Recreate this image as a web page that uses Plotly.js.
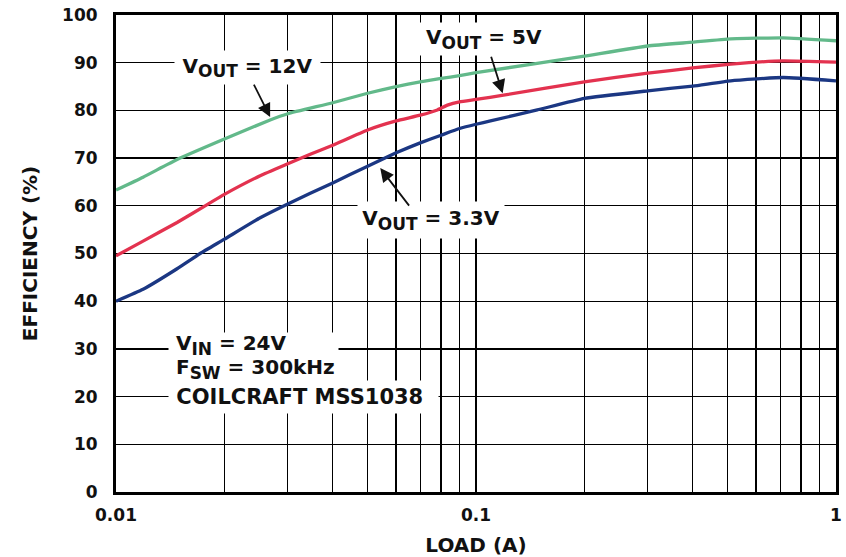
<!DOCTYPE html>
<html>
<head>
<meta charset="utf-8">
<script src="https://cdn.plot.ly/plotly-3.0.1.min.js"></script>
<style>html,body{margin:0;padding:0;background:#fff;}#chart{width:846px;height:557px;}</style>
</head>
<body>
<div id="chart"></div>
<script>
// Load current (A) and efficiency (%)
const load12 = [0.01, 0.01189, 0.01478, 0.02, 0.0268, 0.03, 0.04, 0.05, 0.06, 0.07, 0.08, 0.09, 0.1, 0.2, 0.3, 0.4, 0.51, 0.713, 1.0];
const eff12  = [63.3, 66.0, 69.7, 74.0, 78.0, 79.3, 81.6, 83.6, 85.0, 86.0, 86.7, 87.3, 87.9, 91.4, 93.5, 94.3, 95.0, 95.2, 94.6];

const load5 = [0.01, 0.01189, 0.01478, 0.01768, 0.02, 0.02515, 0.03, 0.03464, 0.04, 0.05, 0.06, 0.07, 0.0781, 0.0833, 0.09, 0.1, 0.1192, 0.2, 0.3, 0.4, 0.51, 0.713, 1.0];
const eff5  = [49.5, 52.6, 56.5, 60.0, 62.4, 66.3, 68.8, 70.8, 72.7, 75.9, 77.8, 79.0, 80.1, 81.1, 81.8, 82.3, 83.2, 86.0, 87.8, 88.9, 89.7, 90.4, 90.1];

const load33 = [0.01, 0.01189, 0.01478, 0.01713, 0.02, 0.02515, 0.03, 0.04, 0.05, 0.06, 0.07, 0.08, 0.09, 0.1, 0.1097, 0.148, 0.2, 0.3, 0.4, 0.51, 0.713, 1.0];
const eff33  = [40.0, 42.5, 46.8, 50.0, 53.0, 57.5, 60.4, 64.8, 68.3, 71.1, 73.2, 74.8, 76.2, 77.1, 77.8, 80.1, 82.5, 84.1, 85.1, 86.2, 86.9, 86.2];

const xTickVals = [0.01, 0.1, 1];
const xTickText = ['0.01', '0.1', '1'];
const xMinorVals = [0.02,0.03,0.04,0.05,0.06,0.07,0.08,0.09,0.2,0.3,0.4,0.5,0.6,0.7,0.8,0.9];

const FONT = 'DejaVu Sans, Liberation Sans, Arial, sans-serif';

const mk = (x, y, color, name) => ({
  x: x, y: y, type: 'scatter', mode: 'lines', name: name,
  line: {color: color, width: 3.3, shape: 'spline', smoothing: 0.4},
  hoverinfo: 'skip'
});

const data = [
  mk(load12, eff12, '#62b98a', 'VOUT = 12V'),
  mk(load5, eff5, '#e3324f', 'VOUT = 5V'),
  mk(load33, eff33, '#1b3783', 'VOUT = 3.3V')
];

const annFont = {family: FONT, size: 20, color: '#111', weight: 'bold'};
const annFontWide = {family: FONT, size: 21, color: '#111', weight: 'bold'};
const sub = s => '<sub><span style="font-size:17px">' + s + '</span></sub>';
const PX = px => (px - 116) / 720;          // paper x from pixel
const PY = py => (492 - py) / 4.77;         // y value from pixel

const label = (cx, cy, w, h, text, anchor, font) => ({
  xref: 'paper', yref: 'y', x: PX(cx), y: PY(cy), text: text, showarrow: false,
  font: font || annFont, bgcolor: '#fff', borderpad: 0, width: w, height: h,
  align: anchor === 'left' ? 'left' : 'center', valign: 'middle',
  xanchor: anchor || 'center', yanchor: 'middle'
});

const arrow = (xv, yv, ax, ay) => ({
  xref: 'x', yref: 'y', x: Math.log10(xv), y: yv, ax: ax, ay: ay, text: '', showarrow: true,
  arrowhead: 2, arrowsize: 1.5, arrowwidth: 1.8, arrowcolor: '#111'
});

const layout = {
  width: 846, height: 557,
  margin: {l: 116, r: 10, t: 15, b: 65},
  paper_bgcolor: '#fff', plot_bgcolor: '#fff',
  showlegend: false,
  font: {family: FONT, color: '#111'},
  xaxis: {
    type: 'log', range: [-2, 0],
    tickmode: 'array', tickvals: xTickVals, ticktext: xTickText,
    showgrid: true, gridcolor: '#000', gridwidth: 2.8,
    minor: {tickmode: 'array', tickvals: xMinorVals, showgrid: true, gridcolor: '#000', gridwidth: 1.3, ticks: ''},
    showline: true, mirror: true, linecolor: '#000', linewidth: 3,
    ticks: '', ticklabelstandoff: 6,
    tickfont: {family: FONT, size: 17, weight: 'bold', color: '#111'},
    title: {text: 'LOAD (A)', font: {family: FONT, size: 20, weight: 'bold', color: '#111'}, standoff: 18},
    zeroline: false, fixedrange: true
  },
  yaxis: {
    range: [0, 100], dtick: 10, tick0: 0,
    showgrid: true, gridcolor: '#000', gridwidth: 1.3,
    showline: true, mirror: true, linecolor: '#000', linewidth: 3,
    ticks: '', ticklabelstandoff: 12,
    tickfont: {family: FONT, size: 17, weight: 'bold', color: '#111'},
    title: {text: 'EFFICIENCY (%)', font: {family: FONT, size: 20, weight: 'bold', color: '#111'}, standoff: 20},
    zeroline: false, fixedrange: true
  },
  annotations: [
    label(247.5, 67, 145, 33, 'V' + sub('OUT') + ' = 12V'),
    label(484, 39, 128, 32, 'V' + sub('OUT') + ' = 5V'),
    label(431, 220, 146, 36, 'V' + sub('OUT') + ' = 3.3V'),
    label(168, 345, 169, 24, '&nbsp;V' + sub('IN') + ' = 24V', 'left'),
    label(168, 369, 169, 24, '&nbsp;F' + sub('SW') + ' = 300kHz', 'left'),
    label(168, 397, 269, 32, '&nbsp;COILCRAFT MSS1038', 'left', annFontWide),
    arrow(0.0268, 78.6, -17, -34),
    arrow(0.1186, 83.6, -12, -38),
    arrow(0.0542, 67.9, 30, 39)
  ]
};

Plotly.newPlot('chart', data, layout, {staticPlot: true, displayModeBar: false});
</script>
</body>
</html>
